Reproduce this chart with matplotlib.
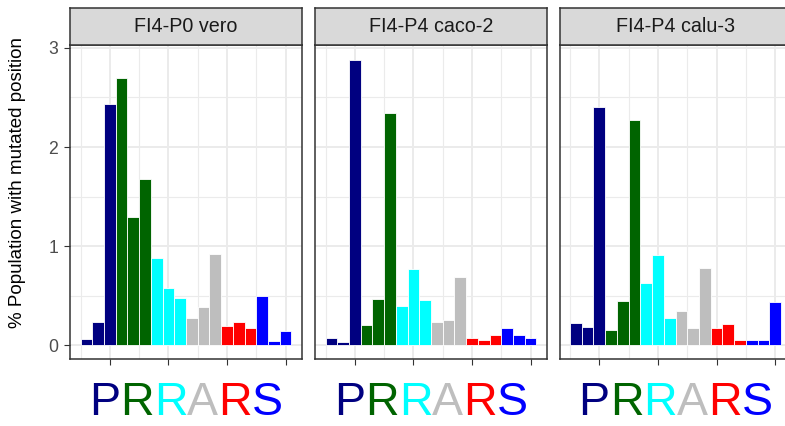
import matplotlib
matplotlib.use("Agg")
import matplotlib.pyplot as plt
import numpy as np

plt.rcParams["font.family"] = ["Liberation Sans", "DejaVu Sans"]

# samples shown in each facet
samples = ["FI4-P0 vero", "FI4-P4 caco-2", "FI4-P4 calu-3"]

# codons of the furin site and the colour used for each
codons = ["P", "R", "R", "A", "R", "S"]
codon_colors = ["#000080", "#006400", "#00FFFF", "#BEBEBE", "#FF0000", "#0000FF"]

# % population mutated, one value per nucleotide position (3 per codon)
vero = [0.06, 0.236, 2.43, 2.70, 1.29, 1.68, 0.875, 0.58, 0.475,
        0.27, 0.384, 0.915, 0.19, 0.235, 0.17, 0.50, 0.045, 0.14]
caco2 = [0.07, 0.035, 2.88, 0.205, 0.47, 2.34, 0.40, 0.77, 0.46,
         0.23, 0.25, 0.69, 0.07, 0.047, 0.098, 0.168, 0.098, 0.07]
calu3 = [0.222, 0.185, 2.40, 0.148, 0.45, 2.27, 0.626, 0.91, 0.27,
         0.347, 0.168, 0.78, 0.168, 0.215, 0.054, 0.054, 0.054, 0.438]
series = [vero, caco2, calu3]

positions = np.arange(1, len(vero) + 1)
bar_colors = [c for c in codon_colors for _ in range(3)]

W, H = 785, 426
fig = plt.figure(figsize=(W / 100, H / 100), dpi=100)

panel_left = [70, 315, 559.5]
panel_w = 232
panel_bottom = 67
panel_h = 314
strip_h = 37.5

border = "#333333"
grid_c = "#EBEBEB"

for i, (name, vals) in enumerate(zip(samples, series)):
    ax = fig.add_axes([panel_left[i] / W, panel_bottom / H, panel_w / W, panel_h / H])
    ax.bar(positions, vals, width=1.0, color=bar_colors, edgecolor="white",
           linewidth=0.6, zorder=3)
    ax.set_xlim(-0.4, 19.4)
    ax.set_ylim(-0.14, 3.03)

    ax.set_xticks([3, 8, 13, 18])
    ax.set_xticks([0.5, 5.5, 10.5, 15.5], minor=True)
    ax.set_yticks([0, 1, 2, 3])
    ax.set_yticks([0.5, 1.5, 2.5], minor=True)
    ax.set_xticklabels([])
    ax.grid(which="major", color=grid_c, linewidth=1.4, zorder=0)
    ax.grid(which="minor", color=grid_c, linewidth=0.8, zorder=0)
    ax.set_axisbelow(True)
    ax.tick_params(which="minor", length=0)
    ax.tick_params(which="major", length=4.5, width=0.8, color=border,
                   labelsize=12.7, labelcolor="#4D4D4D", pad=4)
    if i == 0:
        ax.set_yticklabels(["0", "1", "2", "3"])
    else:
        ax.set_yticklabels([])
        ax.tick_params(axis="y", length=0)
    for s in ax.spines.values():
        s.set_color(border)
        s.set_linewidth(1.1)
        s.set_zorder(5)

    # facet strip
    sx = fig.add_axes([panel_left[i] / W, (panel_bottom + panel_h) / H,
                       panel_w / W, strip_h / H])
    sx.set_facecolor("#D9D9D9")
    sx.set_xticks([])
    sx.set_yticks([])
    for s in sx.spines.values():
        s.set_color(border)
        s.set_linewidth(1.1)
    sx.text(0.5, 0.5, name, ha="center", va="center", fontsize=14.2,
            color="#1A1A1A", transform=sx.transAxes)

    # coloured amino-acid letters under the axis, laid out as one word
    renderer = fig.canvas.get_renderer()
    word = "".join(codons)
    ybase = (11 - panel_bottom) / panel_h
    fs = 33.5
    probe = ax.text(0.5, ybase, word, transform=ax.transAxes, ha="center",
                    va="baseline", fontsize=fs)
    x0 = probe.get_window_extent(renderer).x0
    probe.remove()
    for k, (ch, col) in enumerate(zip(codons, codon_colors)):
        pre = ax.text(0, 0, word[:k + 1], fontsize=fs)
        right = x0 + pre.get_window_extent(renderer).width
        pre.remove()
        xr = ax.transAxes.inverted().transform((right, 0))[0]
        ax.text(xr, ybase, ch, transform=ax.transAxes, ha="right",
                va="baseline", fontsize=fs, color=col, clip_on=False)

fig.text(18 / W, (H - 183) / H, "% Population with mutated position",
         rotation=90, ha="center", va="center", fontsize=13.5, color="black")

fig.savefig("out.png", dpi=100, facecolor="white")
